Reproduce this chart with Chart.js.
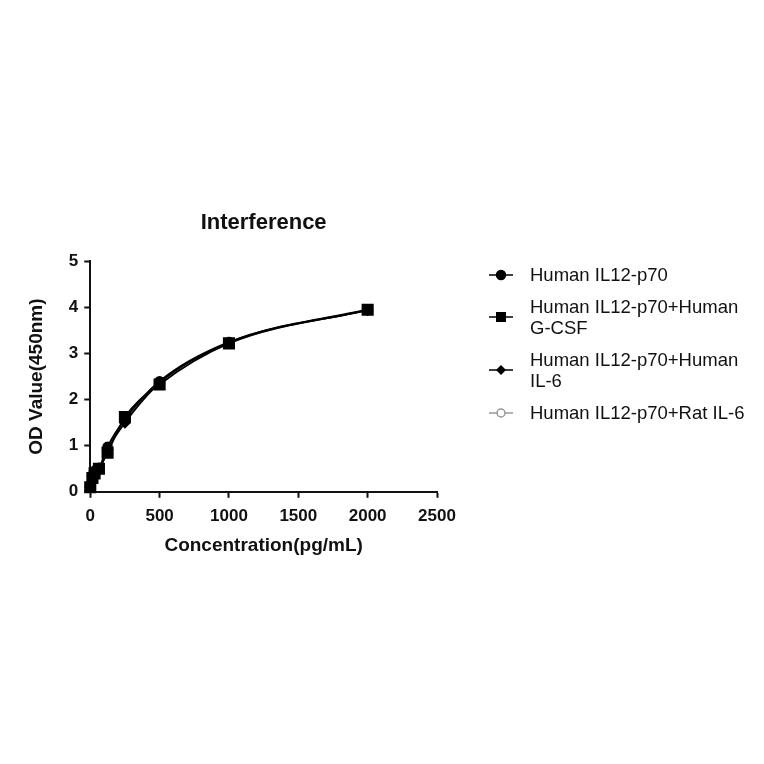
<!DOCTYPE html>
<html>
<head>
<meta charset="utf-8">
<script src="https://cdn.jsdelivr.net/npm/chart.js@4"></script>
<style>
  html, body { margin: 0; padding: 0; background: #fff; }
  #wrap { position: relative; width: 764px; height: 764px; }
  #legend { position: absolute; left: 489px; top: 264px; font-family: "Liberation Sans", Arial, sans-serif; font-size: 18.5px; color: #111; }
  .item { display: flex; align-items: center; margin-bottom: 11px; line-height: 21px; }
  .item svg { flex: none; margin-right: 17px; }
</style>
</head>
<body>
<div id="wrap">
  <canvas id="chart" width="764" height="764"></canvas>
  <div id="legend"></div>
</div>
<script>
/* ── Data ──────────────────────────────────────────── */
const concentrations = [0, 15.6, 31.25, 62.5, 125, 250, 500, 1000, 2000];
const il12     = [0.12, 0.32, 0.46, 0.52, 0.98, 1.58, 2.40, 3.25, 3.96];
const gcsf     = [0.10, 0.30, 0.40, 0.50, 0.85, 1.62, 2.33, 3.22, 3.95];
const il6      = [0.11, 0.34, 0.44, 0.48, 0.92, 1.50, 2.36, 3.24, 3.94];
const ratIl6   = [0.12, 0.31, 0.45, 0.50, 0.95, 1.55, 2.38, 3.23, 3.95];
const seriesNames = ['Human IL12-p70', 'Human IL12-p70+Human\nG-CSF', 'Human IL12-p70+Human\nIL-6', 'Human IL12-p70+Rat IL-6'];
const xTicks = [0, 500, 1000, 1500, 2000, 2500];
const yTicks = [0, 1, 2, 3, 4, 5];

const FONT = '"Liberation Sans", Arial, sans-serif';

const toPts = vals => concentrations.map((c, i) => ({ x: c, y: vals[i] }));

// order: lower number drawn on top (squares end up on top, like the reference)
const styles = [
  { data: il12,   style: 'circle',  color: '#000', fill: '#000', r: 4.5, order: 2 },
  { data: gcsf,   style: 'rect',    color: '#000', fill: '#000', r: 7.5, order: 1 },
  { data: il6,    style: 'rectRot', color: '#000', fill: '#000', r: 5,   order: 3 },
  { data: ratIl6, style: 'circle',  color: '#999', fill: '#fff', r: 4,   order: 4 },
];

const datasets = styles.map((s, i) => ({
  label: seriesNames[i],
  data: toPts(s.data),
  borderColor: s.color,
  backgroundColor: s.fill,
  pointStyle: s.style,
  pointRadius: s.r,
  pointBorderColor: s.color,
  pointBackgroundColor: s.fill,
  pointBorderWidth: 1.5,
  borderWidth: 1.8,
  cubicInterpolationMode: 'monotone',
  clip: false,
  order: s.order,
}));

const tickFont = { family: FONT, size: 17, weight: 'bold' };
const titleFont = { family: FONT, size: 19, weight: 'bold' };

new Chart(document.getElementById('chart'), {
  type: 'line',
  data: { datasets },
  options: {
    responsive: false,
    animation: false,
    layout: { padding: { left: 25, right: 327, top: 210, bottom: 207 } },
    plugins: {
      legend: { display: false },
      tooltip: { enabled: false },
      title: {
        display: true,
        fullSize: false,
        text: 'Interference',
        color: '#111',
        font: { family: FONT, size: 22, weight: 'bold' },
        padding: { top: 0, bottom: 25 },
      },
    },
    scales: {
      x: {
        type: 'linear',
        min: 0, max: 2500,
        afterBuildTicks: ax => { ax.ticks = xTicks.map(v => ({ value: v })); },
        border: { color: '#111', width: 2 },
        grid: { drawOnChartArea: false, drawTicks: true, tickLength: 6, tickColor: '#111', tickWidth: 2 },
        ticks: { color: '#111', font: tickFont, padding: 8, maxRotation: 0, callback: v => String(v) },
        title: { display: true, text: 'Concentration(pg/mL)', color: '#111', font: titleFont, padding: { top: 0, bottom: 0 } },
      },
      y: {
        type: 'linear',
        min: 0, max: 5,
        afterBuildTicks: ax => { ax.ticks = yTicks.map(v => ({ value: v })); },
        border: { color: '#111', width: 2 },
        grid: { drawOnChartArea: false, drawTicks: true, tickLength: 6, tickColor: '#111', tickWidth: 2 },
        ticks: { color: '#111', font: tickFont, padding: 6, callback: v => String(v) },
        title: { display: true, text: 'OD Value(450nm)', color: '#111', font: titleFont, padding: { top: 0, bottom: 15 } },
      },
    },
  },
});

/* ── HTML legend ───────────────────────────────────── */
function markerSvg(s) {
  let mark = '';
  if (s.style === 'circle') mark = `<circle cx="12" cy="10" r="${s.r}" fill="${s.fill}" stroke="${s.color}" stroke-width="1.5"/>`;
  else if (s.style === 'rect') mark = `<rect x="7" y="5" width="10" height="10" fill="#000"/>`;
  else mark = `<polygon points="12,5 17,10 12,15 7,10" fill="#000"/>`;
  return `<svg width="24" height="20"><line x1="0" y1="10" x2="24" y2="10" stroke="${s.color}" stroke-width="1.5"/>${mark}</svg>`;
}
const legend = document.getElementById('legend');
styles.forEach((s, i) => {
  const div = document.createElement('div');
  div.className = 'item';
  div.innerHTML = markerSvg(s) + '<span>' + seriesNames[i].replace('\n', '<br>') + '</span>';
  legend.appendChild(div);
});
</script>
</body>
</html>
